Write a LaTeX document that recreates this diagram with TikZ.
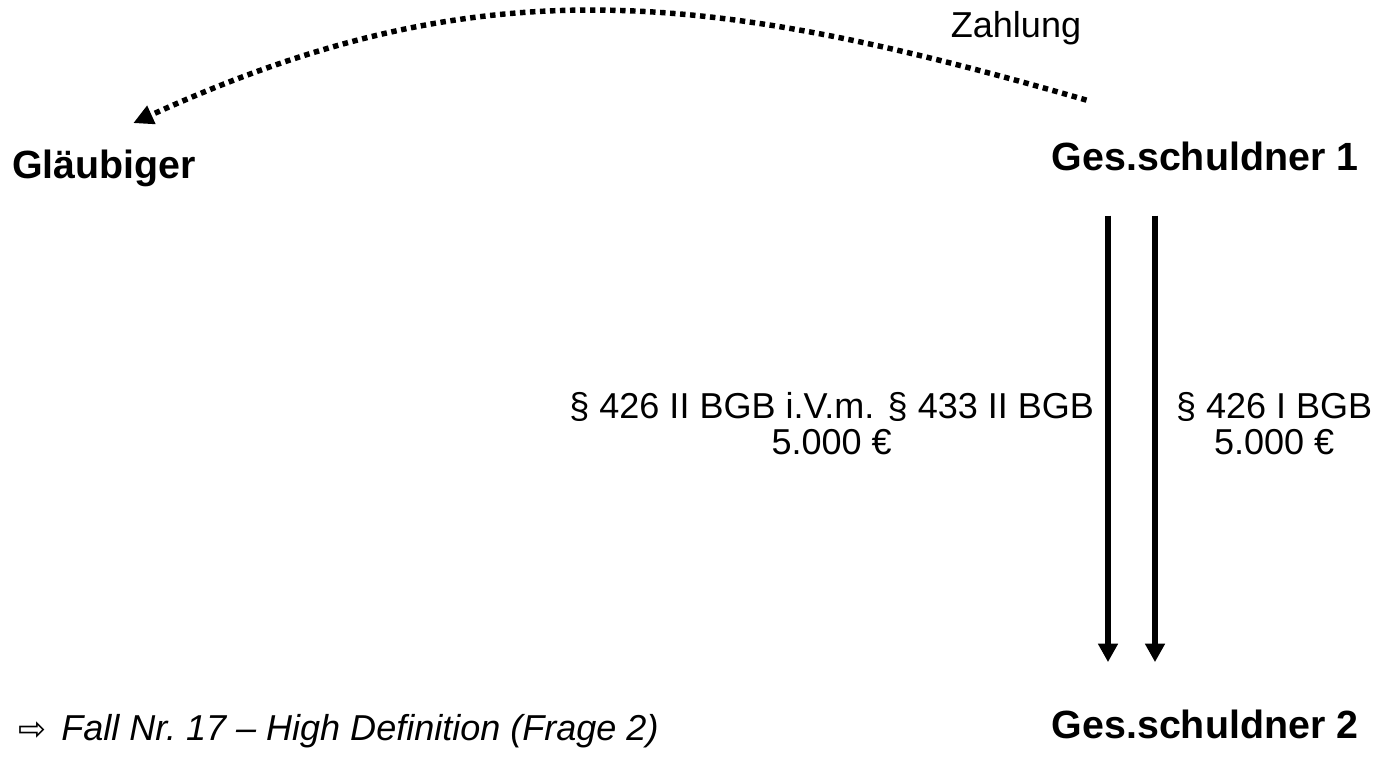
\documentclass[tikz,border=0pt]{standalone}
\usepackage{fontspec}
\setmainfont{Liberation Sans}
\newfontfamily\symbfont{DejaVu Sans}
\usetikzlibrary{arrows.meta, positioning}

\begin{document}
\begin{tikzpicture}[
        font=\fontsize{20.5}{20.5}\selectfont,
        party/.style={inner sep=0pt, font=\fontsize{22.4}{24}\selectfont\bfseries},
        lbl/.style={font=\fontsize{20.5}{20.5}\selectfont, align=center, inner sep=0pt, midway},
        claim/.style={line width=3.4pt, shorten <=0.9cm, shorten >=0.94cm, -{Triangle[length=0.37cm, width=0.38cm]}},
        pay/.style={line width=3.1pt, dash pattern=on 3.1pt off 2.6pt, -{Triangle[length=0.4cm, width=0.38cm]}}
      ]
        \useasboundingbox (0,0) rectangle (27.74,-15.12);
        \node[party, anchor=base west] (gl) at (0.24,-3.56) {Gläubiger};
        \node[party, anchor=base] (gs1) at (24.1,-3.4) {Ges.schuldner 1};
        \node[party, anchor=base] (gs2) at (24.1,-14.76) {Ges.schuldner 2};
        \node[anchor=base, inner sep=0pt] (zahl) at (20.32,-0.74) {Zahlung};
        \node[anchor=base west, inner sep=0pt] (fall) at (0.36,-14.8) {{\symbfont\fontsize{19}{19}\selectfont ⇨}\hspace{0.3cm}\itshape Fall Nr.~17 – High Definition (Frage 2)};

        \draw[pay] ([xshift=0.7cm, yshift=0.82cm]gs1.north west) .. controls (14.1,0.2) and (9.6,0.7) .. ([xshift=0.58cm, yshift=0.52cm]gl.north);
        \draw[claim] ([xshift=-1.94cm]gs1.south) -- node[lbl, left=0.22cm, yshift=0.33cm]{§ 426 II BGB i.V.m. § 433 II BGB\\5.000 €} ([xshift=-1.94cm]gs2.north);
        \draw[claim] ([xshift=-1cm]gs1.south) -- node[lbl, right=0.36cm, yshift=0.33cm]{§ 426 I BGB\\5.000 €} ([xshift=-1cm]gs2.north);
\end{tikzpicture}
\end{document}
